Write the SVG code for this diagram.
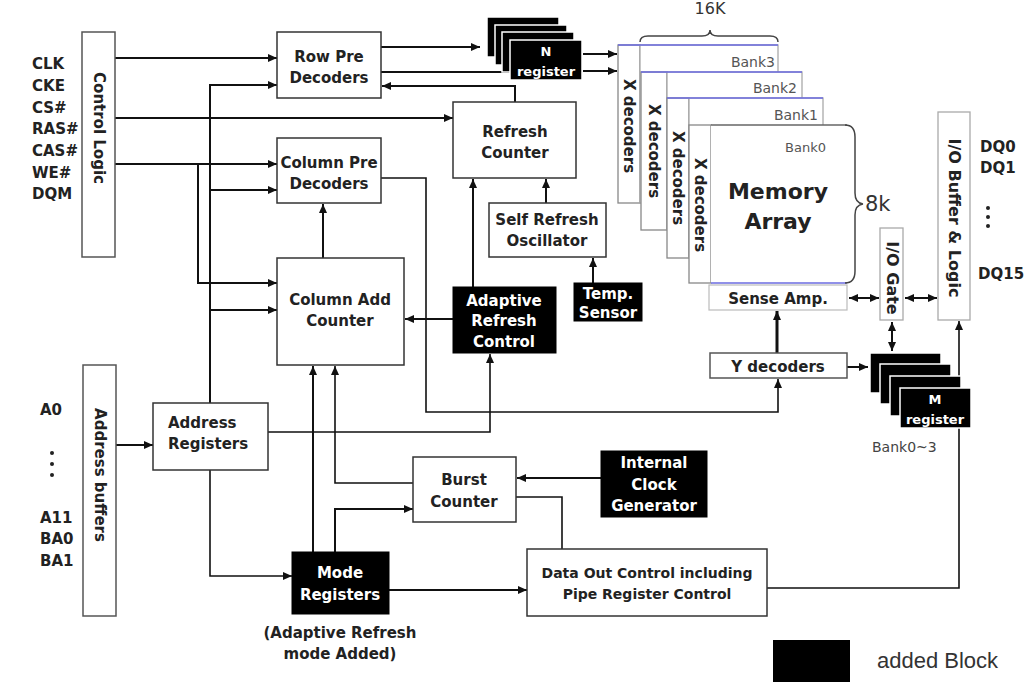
<svg xmlns="http://www.w3.org/2000/svg" width="1025" height="682" viewBox="0 0 1025 682">
<style>
.box{fill:#fff;stroke:#333;stroke-width:1.5}
.fb{fill:#fff;stroke:#aaa;stroke-width:1.3}
.xd{fill:#fff;stroke:#888;stroke-width:1.3}
.blk{fill:#000;stroke:#000;stroke-width:1}
.lay{fill:#000;stroke:#fff;stroke-width:1.5}
.t{font-family:"DejaVu Sans",sans-serif;font-weight:bold;font-size:15px;text-anchor:middle;fill:#222}
.l{font-family:"DejaVu Sans",sans-serif;font-weight:bold;font-size:15px;fill:#222}
.w{fill:#fff}
.rg{font-size:13px}
.bk{font-family:"DejaVu Sans",sans-serif;font-size:14px;text-anchor:end;fill:#555}
.c{fill:none;stroke:#111;stroke-width:2}
.blue{fill:none;stroke:#6b6be0;stroke-width:1.5}
.br{fill:none;stroke:#444;stroke-width:1.5}
</style>
<defs>
<marker id="a" markerUnits="userSpaceOnUse" markerWidth="10" markerHeight="8" refX="9" refY="4" orient="auto"><path d="M0,0 L9,4 L0,8 z" fill="#111"/></marker>
<marker id="s" markerUnits="userSpaceOnUse" markerWidth="10" markerHeight="8" refX="9" refY="4" orient="auto-start-reverse"><path d="M0,0 L9,4 L0,8 z" fill="#111"/></marker>
</defs>
<rect width="1025" height="682" fill="#fff"/>

<g id="connectors">
<path class="c" d="M115,58 H277" marker-end="url(#a)"/>
<path class="c" d="M115,118 H453" marker-end="url(#a)"/>
<path class="c" d="M115,164 H277" marker-end="url(#a)"/>
<path class="c" d="M198,164 V283 H277" marker-end="url(#a)"/>
<path class="c" d="M210,403 V85 H277" marker-end="url(#a)"/>
<path class="c" d="M210,190 H277" marker-end="url(#a)"/>
<path class="c" d="M210,310 H277" marker-end="url(#a)"/>
<path class="c" d="M381,47 H480" marker-end="url(#a)"/>
<path class="c" d="M381,72 H510"/>
<path class="c" d="M583,54 H617" marker-end="url(#a)"/>
<path class="c" d="M583,71 H617" marker-end="url(#a)"/>
<path class="c" d="M515,102 V86 H382" marker-end="url(#a)"/>
<path class="c" style="stroke-width:1.6" d="M381,178 H426 V412 H778 V379" marker-end="url(#a)"/>
<path class="c" d="M323,258 V204" marker-end="url(#a)"/>
<path class="c" d="M473,287 V179" marker-end="url(#a)"/>
<path class="c" d="M546,203 V179" marker-end="url(#a)"/>
<path class="c" d="M593,283 V258" marker-end="url(#a)"/>
<path class="c" d="M453,319 H405" marker-end="url(#a)"/>
<path class="c" d="M116,445 H153" marker-end="url(#a)"/>
<path class="c" style="stroke-width:1.6" d="M268,432 H490 V354" marker-end="url(#a)"/>
<path class="c" style="stroke-width:1.6" d="M210,470 V576 H292" marker-end="url(#a)"/>
<path class="c" d="M313,552 V366" marker-end="url(#a)"/>
<path class="c" style="stroke-width:1.6" d="M413,483 H335 V366" marker-end="url(#a)"/>
<path class="c" d="M335,552 V509 H413" marker-end="url(#a)"/>
<path class="c" d="M601,478 H517" marker-end="url(#a)"/>
<path class="c" style="stroke-width:1.6" d="M516,497 H562 V549"/>
<path class="c" d="M389,590 H527" marker-end="url(#a)"/>
<path class="c" style="stroke-width:1.6" d="M767,588 H959 V321" marker-end="url(#a)"/>
<path class="c" style="stroke-width:3" d="M777,353 V311" marker-end="url(#a)"/>
<path class="c" d="M847,367 H868" marker-end="url(#a)"/>
<path class="c" d="M849,298 H879" marker-start="url(#s)" marker-end="url(#a)"/>
<path class="c" d="M905,298 H937" marker-start="url(#s)" marker-end="url(#a)"/>
<path class="c" d="M892,322 V351" marker-start="url(#s)" marker-end="url(#a)"/>
</g>

<g id="signals">
<text class="l" x="32" y="69">CLK</text>
<text class="l" x="32" y="91">CKE</text>
<text class="l" x="32" y="113">CS#</text>
<text class="l" x="32" y="134">RAS#</text>
<text class="l" x="32" y="156">CAS#</text>
<text class="l" x="32" y="178">WE#</text>
<text class="l" x="32" y="199">DQM</text>
<text class="l" x="40" y="415">A0</text>
<circle cx="52" cy="453" r="2" fill="#222"/><circle cx="52" cy="464" r="2" fill="#222"/><circle cx="52" cy="475" r="2" fill="#222"/>
<text class="l" x="40" y="523">A11</text>
<text class="l" x="40" y="544">BA0</text>
<text class="l" x="40" y="566">BA1</text>
<text class="l" x="980" y="152">DQ0</text>
<text class="l" x="980" y="173">DQ1</text>
<circle cx="988" cy="208" r="2" fill="#222"/><circle cx="988" cy="217" r="2" fill="#222"/><circle cx="988" cy="226" r="2" fill="#222"/>
<text class="l" x="978" y="279">DQ15</text>
</g>

<g id="control-logic">
<rect class="box" x="82" y="32" width="33" height="225" style="stroke:#555"/>
<text class="t" transform="translate(99,128) rotate(90)" dy="5">Control Logic</text>
</g>
<g id="address-buffers">
<rect class="box" x="83" y="365" width="33" height="251" style="stroke:#555"/>
<text class="t" transform="translate(100,475) rotate(90)" dy="5">Address buffers</text>
</g>
<g id="row-pre-decoders">
<rect class="box" x="277" y="32" width="104" height="66"/>
<text class="t" x="329" y="62">Row Pre</text>
<text class="t" x="329" y="83">Decoders</text>
</g>
<g id="column-pre-decoders">
<rect class="box" x="277" y="138" width="104" height="65"/>
<text class="t" x="329" y="168">Column Pre</text>
<text class="t" x="329" y="189">Decoders</text>
</g>
<g id="n-register">
<rect class="lay" x="487" y="17" width="72" height="40"/>
<rect class="lay" x="495" y="25" width="72" height="40"/>
<rect class="lay" x="502" y="32" width="72" height="40"/>
<rect class="lay" x="510" y="40" width="72" height="40"/>
<text class="t w rg" x="546" y="56">N</text>
<text class="t w rg" x="546" y="76">register</text>
</g>
<g id="refresh-counter">
<rect class="box" x="453" y="102" width="123" height="76"/>
<text class="t" x="515" y="137">Refresh</text>
<text class="t" x="515" y="158">Counter</text>
</g>
<g id="self-refresh-oscillator">
<rect class="box" x="489" y="203" width="117" height="54"/>
<text class="t" x="547" y="225">Self Refresh</text>
<text class="t" x="547" y="246">Oscillator</text>
</g>
<g id="temp-sensor">
<rect class="blk" x="574" y="283" width="68" height="38"/>
<text class="t w" x="608" y="299">Temp.</text>
<text class="t w" x="608" y="318">Sensor</text>
</g>
<g id="column-add-counter">
<rect class="box" x="277" y="258" width="127" height="107"/>
<text class="t" x="340" y="305">Column Add</text>
<text class="t" x="340" y="326">Counter</text>
</g>
<g id="adaptive-refresh-control">
<rect class="blk" x="453" y="287" width="103" height="66"/>
<text class="t w" x="504" y="306">Adaptive</text>
<text class="t w" x="504" y="326">Refresh</text>
<text class="t w" x="504" y="347">Control</text>
</g>
<g id="address-registers">
<rect class="box" x="153" y="403" width="115" height="67"/>
<text class="l" x="168" y="428">Address</text>
<text class="l" x="168" y="449">Registers</text>
</g>
<g id="burst-counter">
<rect class="box" x="413" y="457" width="103" height="65"/>
<text class="t" x="464" y="485">Burst</text>
<text class="t" x="464" y="507">Counter</text>
</g>
<g id="internal-clock-generator">
<rect class="blk" x="601" y="451" width="106" height="66"/>
<text class="t w" x="654" y="468">Internal</text>
<text class="t w" x="654" y="490">Clock</text>
<text class="t w" x="654" y="511">Generator</text>
</g>
<g id="mode-registers">
<rect class="blk" x="292" y="552" width="97" height="62"/>
<text class="t w" x="340" y="578">Mode</text>
<text class="t w" x="340" y="600">Registers</text>
<text class="t" x="340" y="638">(Adaptive Refresh</text>
<text class="t" x="340" y="659">mode Added)</text>
</g>
<g id="data-out-control">
<rect class="box" x="527" y="549" width="240" height="67"/>
<text class="t" x="647" y="578" style="font-size:14px">Data Out Control including</text>
<text class="t" x="647" y="599" style="font-size:14px">Pipe Register Control</text>
</g>

<g id="bank3">
<rect class="xd" x="618" y="45" width="22" height="158"/>
<rect class="fb" x="640" y="45" width="138" height="158"/>
<path class="blue" d="M618,45 H778"/>
<text class="t" transform="translate(629,126) rotate(90)" dy="5">X decoders</text>
<text class="bk" x="775" y="67">Bank3</text>
</g>
<g id="bank2">
<rect class="xd" x="641" y="72" width="26" height="158"/>
<rect class="fb" x="667" y="72" width="135" height="158"/>
<path class="blue" d="M641,72 H802"/>
<text class="t" transform="translate(654,151) rotate(90)" dy="5">X decoders</text>
<text class="bk" x="797" y="93">Bank2</text>
</g>
<g id="bank1">
<rect class="xd" x="667" y="98" width="22" height="160"/>
<rect class="fb" x="689" y="98" width="134" height="160"/>
<path class="blue" d="M667,98 H823"/>
<text class="t" transform="translate(678,178) rotate(90)" dy="5">X decoders</text>
<text class="bk" x="818" y="120">Bank1</text>
</g>
<g id="bank0">
<rect class="xd" x="689" y="125" width="22" height="158"/>
<rect x="711" y="125" width="136" height="158" fill="#fff"/>
<path d="M711,125 H847" stroke="#666" stroke-width="1.5" fill="none"/>
<path class="blue" d="M711,283 H847"/>
<path class="br" d="M845,125 Q855,125 855,137 L855,193 Q855,203 863,204 Q855,205 855,215 L855,271 Q855,283 845,283"/>
<text class="t" transform="translate(700,205) rotate(90)" dy="5">X decoders</text>
<text class="bk" x="826" y="152" style="font-size:13px">Bank0</text>
<text class="t" x="778" y="199" style="font-size:22px">Memory</text>
<text class="t" x="778" y="229" style="font-size:22px">Array</text>
<text x="865" y="211" style="font-family:'DejaVu Sans',sans-serif;font-size:21px;fill:#333">8k</text>
</g>
<g id="brace-16k">
<path class="br" d="M640,42 Q640,36 648,36 L702,36 Q710,36 710,30 Q710,36 718,36 L770,36 Q778,36 778,42"/>
<text x="710" y="14" style="font-family:'DejaVu Sans',sans-serif;font-size:16px;text-anchor:middle;fill:#333">16K</text>
</g>
<g id="sense-amp">
<rect x="709" y="285" width="138" height="25" fill="#fff" stroke="#bbb" stroke-width="1.2"/>
<text class="t" x="778" y="304">Sense Amp.</text>
</g>
<g id="y-decoders">
<rect class="box" x="710" y="353" width="137" height="25" style="stroke:#555"/>
<text class="t" x="778" y="372">Y decoders</text>
</g>
<g id="io-gate">
<rect class="fb" x="880" y="228" width="23" height="92"/>
<text class="t" transform="translate(892,278) rotate(90)" dy="5" style="font-size:16px">I/O Gate</text>
</g>
<g id="io-buffer">
<rect class="fb" x="938" y="112" width="32" height="208"/>
<text class="t" transform="translate(954,218) rotate(90)" dy="5" style="font-size:16px">I/O Buffer &amp; Logic</text>
</g>
<g id="m-register">
<rect class="lay" x="870" y="353" width="71" height="40"/>
<rect class="lay" x="880" y="364" width="71" height="40"/>
<rect class="lay" x="890" y="376" width="71" height="40"/>
<rect class="lay" x="900" y="388" width="71" height="40"/>
<text class="t w rg" x="935" y="404">M</text>
<text class="t w rg" x="935" y="424">register</text>
<text x="872" y="452" style="font-family:'DejaVu Sans',sans-serif;font-size:14px;fill:#444">Bank0~3</text>
</g>
<g id="legend">
<rect x="773" y="640" width="77" height="45" fill="#000"/>
<text x="877" y="668" style="font-family:'Liberation Sans',sans-serif;font-size:22px;fill:#333">added Block</text>
</g>
</svg>
